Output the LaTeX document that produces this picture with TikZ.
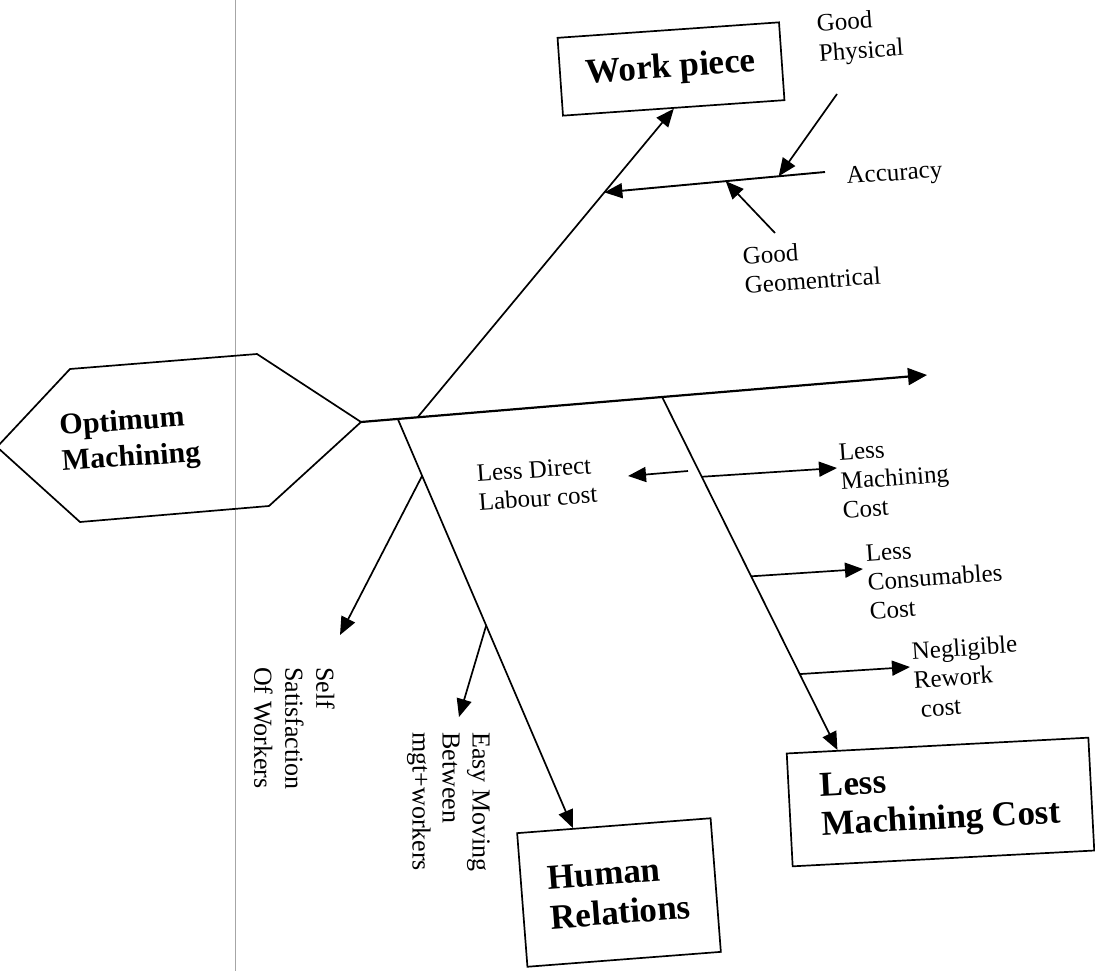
\documentclass[tikz,border=0pt]{standalone}
\usepackage{fontspec}
\setmainfont{Liberation Serif}
\usetikzlibrary{arrows.meta,calc}
\begin{document}
\begin{tikzpicture}[x=1pt,y=-1pt,
  bone/.style={line width=1.7pt},
  arr/.style={bone,-{Triangle[length=18pt,width=15pt]}},
  spine/.style={line width=2.2pt,-{Triangle[length=19pt,width=17pt]}},
  headbox/.style={draw,line width=1.7pt,font=\fontsize{35}{40}\selectfont\bfseries,align=left,inner sep=0pt},
  cause/.style={font=\fontsize{25}{29}\selectfont,align=left,inner sep=0pt,rotate=4,anchor=north west},
  vcause/.style={font=\fontsize{26}{30}\selectfont,align=left,inner sep=0pt,rotate=-90,anchor=north west},
]
\useasboundingbox (0,0) rectangle (1095,971);
\fill[white] (0,0) rectangle (1095,971);
% thin seam line down the sheet
\draw[gray!70,line width=0.8pt] (235,0) -- (235,971);

% head: Optimum Machining hexagon
\coordinate (hexL) at (-3,447);
\coordinate (hexTL) at (70,369);
\coordinate (hexTR) at (257,354);
\coordinate (hexR) at (361,422);
\coordinate (hexBR) at (269,506);
\coordinate (hexBL) at (80,522);
\draw[line width=1.7pt] (hexL) -- (hexTL) -- (hexTR) -- (hexR) -- (hexBR) -- (hexBL) -- cycle;
\node[font=\fontsize{30}{36}\selectfont\bfseries,align=left,rotate=4,inner sep=0pt] (opt) at (130,441) {Optimum\\Machining};

% spine
\coordinate (spineEnd) at (927,375);
\draw[spine] (hexR) -- (spineEnd);
\coordinate (hr0) at ($(hexR)!0.065!(spineEnd)$);
\coordinate (wp0) at ($(hexR)!0.10!(spineEnd)$);
\coordinate (lc0) at ($(hexR)!0.532!(spineEnd)$);

% Work piece branch
\node[headbox,rotate=4,minimum width=222pt,minimum height=78pt] (wp) at (671,69) {Work piece};
\draw[arr] (wp0) -- (wp.south);
\coordinate (accE) at (825,172);
\coordinate (accJ) at ($(wp0)!0.729!(wp.south)$);
\draw[arr,line width=1.9pt] (accE) -- (accJ);
\coordinate (gpT) at (837,94);
\coordinate (ggT) at (775,233);
\draw[arr] (gpT) -- ($(accE)!0.21!(accJ)$);
\draw[arr] (ggT) -- ($(accE)!0.45!(accJ)$);
\node[cause,font=\fontsize{25}{30}\selectfont] (gp) at (816,14) {Good\\Physical};
\node[cause,anchor=base west] (acc) at (847,184) {Accuracy};
\node[cause] (gg) at (742,247) {Good\\Geomentrical};

% Human Relations branch
\node[headbox,rotate=4.4,minimum width=194pt,minimum height=134pt] (hr) at (619,892.5) {Human\\Relations};
\coordinate (hrTip) at ($(hr.north west)!0.29!(hr.north east)$);
\draw[arr] (hr0) -- (hrTip);
\coordinate (ssT) at (340,635);
\coordinate (emT) at (459,717);
\draw[arr] ($(hr0)!0.139!(hrTip)$) -- (ssT);
\draw[arr] ($(hr0)!0.505!(hrTip)$) -- (emT);
\node[vcause,font=\fontsize{26}{31}\selectfont] (ss) at (335,667) {Self\\Satisfaction\\Of Workers};
\node[vcause,font=\fontsize{26}{30}\selectfont] (em) at (490,732) {Easy Moving\\Between\\mgt+workers};

% Less Machining Cost branch
\node[headbox,rotate=3,minimum width=302pt,minimum height=113pt,font=\fontsize{35}{39}\selectfont\bfseries] (lmc) at (940.5,802) {Less\\Machining Cost};
\coordinate (lcTip) at ($(lmc.north west)!0.17!(lmc.north east)$);
\draw[arr] (lc0) -- (lcTip);

\coordinate (ldT) at (688,471);
\coordinate (ldH) at (628,476);
\draw[arr] (ldT) -- (ldH);
\node[cause] (ld) at (476,465) {Less Direct\\Labour cost};

\coordinate (lmT) at (837,468);
\coordinate (cnT) at (863,569);
\coordinate (nrT) at (910,667);
\draw[arr] ($(lc0)!0.226!(lcTip)$) -- (lmT);
\draw[arr] ($(lc0)!0.508!(lcTip)$) -- (cnT);
\draw[arr] ($(lc0)!0.785!(lcTip)$) -- (nrT);
\node[cause] (lm) at (838,444) {Less\\Machining\\Cost};
\node[cause] (cn) at (865,545) {Less\\Consumables\\Cost};
\node[cause] (nr) at (911,642) {Negligible\\Rework\\\hspace{5pt}cost};
\end{tikzpicture}
\end{document}
